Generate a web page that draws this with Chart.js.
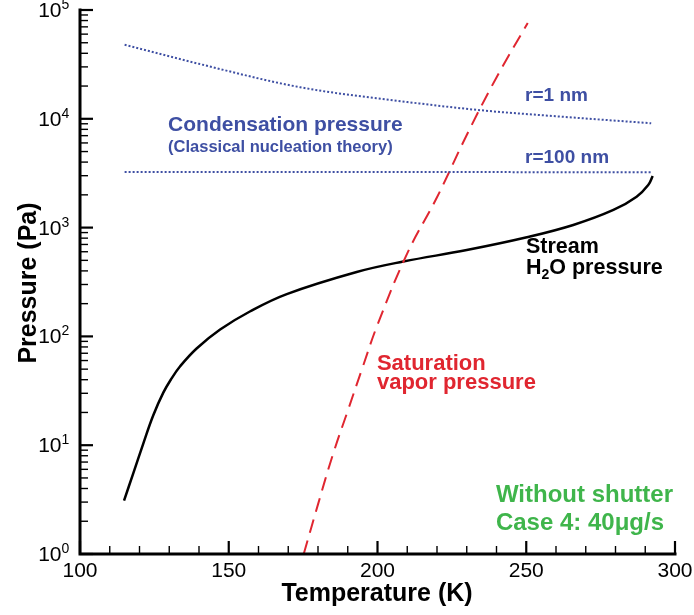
<!DOCTYPE html>
<html>
<head>
<meta charset="utf-8">
<script src="https://cdn.jsdelivr.net/npm/chart.js@4.4.0/dist/chart.umd.min.js"></script>
<style>
html,body{margin:0;padding:0;background:#fff;}
#wrap{width:694px;height:615px;position:relative;}
canvas{display:block;}
</style>
</head>
<body>
<div id="wrap"><canvas id="c" width="694" height="615"></canvas></div>
<script>
// ---- data ----
const xTicks = [100, 150, 200, 250, 300];
const yTicks = [1, 10, 100, 1000, 10000, 100000];

// Stream H2O pressure (black solid)
const streamT = [114.8, 117.9, 121.3, 124.6, 128.0, 130.8, 133.6, 139.2, 147.1, 157.1, 169.5, 193.0, 208.7, 230.0, 250.2, 265.8, 279.3, 287.1, 291.0, 292.5];
const streamP = [3.09, 5.52, 10.4, 18.75, 30.4, 41.1, 52.9, 77.4, 115.7, 169.4, 245, 391, 488, 622, 815, 1057, 1452, 1924, 2460, 2980];

// Saturation vapor pressure (red dashed)
const satT = [175.2, 180, 185, 190, 195, 200, 210, 220, 230, 240, 250.5];
const satP = [1.0, 2.86, 8.2, 20.7, 52, 128, 580, 1900, 7100, 24000, 76000];

// Condensation pressure r=1 nm (blue dotted)
const r1T = [115, 140, 174, 208, 234.5, 261, 292];
const r1P = [48000, 32000, 19500, 14500, 12000, 10500, 9100];

// Condensation pressure r=100 nm (blue dotted)
const r100T = [115, 200, 292];
const r100P = [3250, 3240, 3230];

const pts = (xs, ys) => xs.map((x, i) => ({x: x, y: ys[i]}));

const FONT = "'Liberation Sans', Arial, Helvetica, sans-serif";
const BLUE = '#3e4fa3';
const RED = '#e02630';
const GREEN = '#3fb54b';

const annotations = [
  {text: 'Condensation pressure', T: 129.6, P: 7700, font: 'bold 21px ' + FONT, color: BLUE},
  {text: '(Classical nucleation theory)', T: 129.6, P: 4950, font: 'bold 16.5px ' + FONT, color: BLUE},
  {text: 'r=1 nm', T: 249.6, P: 14500, font: 'bold 19px ' + FONT, color: BLUE},
  {text: 'r=100 nm', T: 249.6, P: 3920, font: 'bold 19px ' + FONT, color: BLUE},
  {text: 'Stream', T: 249.9, P: 584, font: 'bold 21.5px ' + FONT, color: '#000'},
  {text: ['H', '2', 'O pressure'], T: 249.9, P: 375, font: 'bold 21.5px ' + FONT, sub: 'bold 14px ' + FONT, color: '#000'},
  {text: 'Saturation', T: 199.8, P: 49, font: 'bold 22px ' + FONT, color: RED},
  {text: 'vapor pressure', T: 199.8, P: 33, font: 'bold 22px ' + FONT, color: RED},
  {text: 'Without shutter', T: 239.8, P: 3.0, font: 'bold 24px ' + FONT, color: GREEN},
  {text: 'Case 4: 40\u03bcg/s', T: 239.8, P: 1.66, font: 'bold 24px ' + FONT, color: GREEN}
];

const axesPlugin = {
  id: 'axesPlugin',
  afterDraw(chart) {
    const ctx = chart.ctx;
    const xs = chart.scales.x, ys = chart.scales.y;
    const ca = chart.chartArea;
    ctx.save();
    ctx.strokeStyle = '#000';
    ctx.lineCap = 'butt';
    // x ticks (inward)
    for (let v = 100; v <= 300; v += 10) {
      const px = xs.getPixelForValue(v);
      const major = (v % 50 === 0);
      ctx.lineWidth = major ? 2.2 : 1.4;
      ctx.beginPath();
      ctx.moveTo(px, ca.bottom);
      ctx.lineTo(px, ca.bottom - (major ? 13 : 8));
      ctx.stroke();
    }
    // y ticks (inward)
    for (let e = 0; e <= 5; e++) {
      const base = Math.pow(10, e);
      const py = ys.getPixelForValue(base);
      ctx.lineWidth = 2.2;
      ctx.beginPath();
      ctx.moveTo(ca.left, py);
      ctx.lineTo(ca.left + 13, py);
      ctx.stroke();
      if (e < 5) {
        for (let m = 2; m <= 9; m++) {
          const pm = ys.getPixelForValue(m * base);
          ctx.lineWidth = 1.4;
          ctx.beginPath();
          ctx.moveTo(ca.left, pm);
          ctx.lineTo(ca.left + 8, pm);
          ctx.stroke();
        }
      }
    }
    // axis lines
    ctx.lineWidth = 3;
    ctx.lineCap = 'square';
    ctx.beginPath();
    ctx.moveTo(ca.left, ca.top);
    ctx.lineTo(ca.left, ca.bottom);
    ctx.lineTo(ca.right, ca.bottom);
    ctx.stroke();

    // tick labels
    ctx.fillStyle = '#000';
    ctx.font = '21px ' + FONT;
    ctx.textAlign = 'center';
    ctx.textBaseline = 'alphabetic';
    xTicks.forEach(v => {
      ctx.fillText(String(v), xs.getPixelForValue(v), ca.bottom + 23);
    });
    yTicks.forEach(v => {
      const py = ys.getPixelForValue(v);
      const expo = String(Math.round(Math.log10(v)));
      ctx.font = '21px ' + FONT;
      ctx.textAlign = 'right';
      ctx.fillText('10', 61.5, py + 7);
      ctx.font = '14px ' + FONT;
      ctx.textAlign = 'left';
      ctx.fillText(expo, 61.5, py - 1);
    });

    // axis titles
    ctx.font = 'bold 25px ' + FONT;
    ctx.textAlign = 'center';
    ctx.fillText('Temperature (K)', 377, 601);
    ctx.save();
    ctx.translate(36, 283);
    ctx.rotate(-Math.PI / 2);
    ctx.fillText('Pressure (Pa)', 0, 0);
    ctx.restore();

    // annotations
    ctx.textAlign = 'left';
    annotations.forEach(a => {
      const px = xs.getPixelForValue(a.T);
      const py = ys.getPixelForValue(a.P);
      ctx.fillStyle = a.color;
      if (Array.isArray(a.text)) {
        let x = px;
        ctx.font = a.font;
        ctx.fillText(a.text[0], x, py);
        x += ctx.measureText(a.text[0]).width;
        ctx.font = a.sub;
        ctx.fillText(a.text[1], x, py + 5);
        x += ctx.measureText(a.text[1]).width;
        ctx.font = a.font;
        ctx.fillText(a.text[2], x, py);
      } else {
        ctx.font = a.font;
        ctx.fillText(a.text, px, py);
      }
    });
    ctx.restore();
  }
};

new Chart(document.getElementById('c'), {
  type: 'line',
  data: {
    datasets: [
      {label: 'r=1 nm', data: pts(r1T, r1P), borderColor: BLUE, borderWidth: 2, borderDash: [2, 2], pointRadius: 0, fill: false, cubicInterpolationMode: 'monotone', clip: false},
      {label: 'r=100 nm', data: pts(r100T, r100P), borderColor: BLUE, borderWidth: 2, borderDash: [2, 2], pointRadius: 0, fill: false, cubicInterpolationMode: 'monotone', clip: false},
      {label: 'Saturation vapor pressure', data: pts(satT, satP), borderColor: RED, borderWidth: 2, borderDash: [14, 8], pointRadius: 0, fill: false, tension: 0.4, clip: false},
      {label: 'Stream H2O pressure', data: pts(streamT, streamP), borderColor: '#000', borderWidth: 2.5, pointRadius: 0, fill: false, tension: 0.4, clip: false}
    ]
  },
  options: {
    responsive: false,
    animation: false,
    devicePixelRatio: 1,
    layout: {padding: {left: 80, right: 19, top: 10, bottom: 61}},
    scales: {
      x: {type: 'linear', min: 100, max: 300, display: false},
      y: {type: 'logarithmic', min: 1, max: 100000, display: false}
    },
    plugins: {legend: {display: false}, tooltip: {enabled: false}}
  },
  plugins: [axesPlugin]
});
</script>
</body>
</html>
